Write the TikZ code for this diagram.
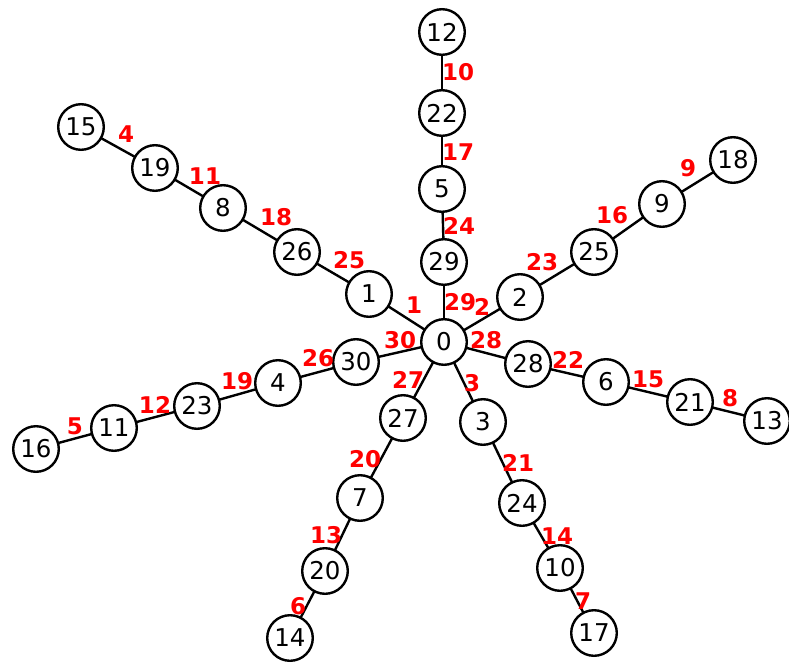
\documentclass[tikz,border=0pt]{standalone}
\usepackage{fontspec}
\setmainfont{DejaVu Sans}
\begin{document}
\begin{tikzpicture}[x=1pt,y=-1pt,
  vtx/.style={circle,draw=black,line width=2.4pt,fill=white,minimum size=45.6pt,inner sep=0pt,font=\fontsize{24.5pt}{24.5pt}\selectfont},
  lbl/.style={text=red,font=\fontsize{23pt}{23pt}\selectfont\bfseries,inner sep=0pt},
  edge/.style={draw=black,line width=2.4pt}]
\useasboundingbox (0,0) rectangle (789,666);
% node positions
\coordinate (p0) at (444,342);
\coordinate (p12) at (442,32);
\coordinate (p22) at (442,113);
\coordinate (p5) at (442,189);
\coordinate (p29) at (444,262);
\coordinate (p1) at (369,294);
\coordinate (p26) at (297,252);
\coordinate (p8) at (223,208);
\coordinate (p19) at (155,168);
\coordinate (p15) at (81,127);
\coordinate (p2) at (520,297);
\coordinate (p25) at (594,252);
\coordinate (p9) at (662,204);
\coordinate (p18) at (733,160);
\coordinate (p28) at (528,364);
\coordinate (p6) at (606,382);
\coordinate (p21) at (690,402);
\coordinate (p13) at (767,421);
\coordinate (p30) at (356,362);
\coordinate (p4) at (278,383);
\coordinate (p23) at (197,406);
\coordinate (p11) at (114,428);
\coordinate (p16) at (36,449);
\coordinate (p27) at (403,418);
\coordinate (p7) at (360,498);
\coordinate (p20) at (325,571);
\coordinate (p14) at (290,638);
\coordinate (p3) at (483,422);
\coordinate (p24) at (522,503);
\coordinate (p10) at (560,568);
\coordinate (p17) at (594,633);
% edges first
\foreach \a/\b in {0/29,29/5,5/22,22/12,0/1,1/26,26/8,8/19,19/15,0/2,2/25,25/9,9/18,0/28,28/6,6/21,21/13,0/30,30/4,4/23,23/11,11/16,0/27,27/7,7/20,20/14,0/3,3/24,24/10,10/17}
  \draw[edge] (p\a) -- (p\b);
% vertices
\foreach \n in {0,12,22,5,29,1,26,8,19,15,2,25,9,18,28,6,21,13,30,4,23,11,16,27,7,20,14,3,24,10,17}
  \node[vtx] (v\n) at (p\n) {\n};
% edge labels
\node[lbl] (l10) at (458,72) {10};
\node[lbl] (l17) at (458,152) {17};
\node[lbl] (l24) at (459,226) {24};
\node[lbl] (l29) at (460,302) {29};
\node[lbl] (l1) at (414,305) {1};
\node[lbl] (l25) at (349,260) {25};
\node[lbl] (l18) at (276,217) {18};
\node[lbl] (l11) at (205,176) {11};
\node[lbl] (l4) at (126,134) {4};
\node[lbl] (l2) at (482,307) {2};
\node[lbl] (l23) at (542,262) {23};
\node[lbl] (l16) at (612,215) {16};
\node[lbl] (l9) at (688,168) {9};
\node[lbl] (l28) at (486,340) {28};
\node[lbl] (l22) at (568,360) {22};
\node[lbl] (l15) at (648,379) {15};
\node[lbl] (l8) at (730,398) {8};
\node[lbl] (l30) at (400,340) {30};
\node[lbl] (l26) at (318,358) {26};
\node[lbl] (l19) at (237,381) {19};
\node[lbl] (l12) at (155,405) {12};
\node[lbl] (l5) at (75,426) {5};
\node[lbl] (l27) at (408,380) {27};
\node[lbl] (l20) at (365,459) {20};
\node[lbl] (l13) at (326,535) {13};
\node[lbl] (l6) at (298,606) {6};
\node[lbl] (l3) at (472,383) {3};
\node[lbl] (l21) at (518,463) {21};
\node[lbl] (l14) at (557,536) {14};
\node[lbl] (l7) at (583,601) {7};
\end{tikzpicture}
\end{document}
